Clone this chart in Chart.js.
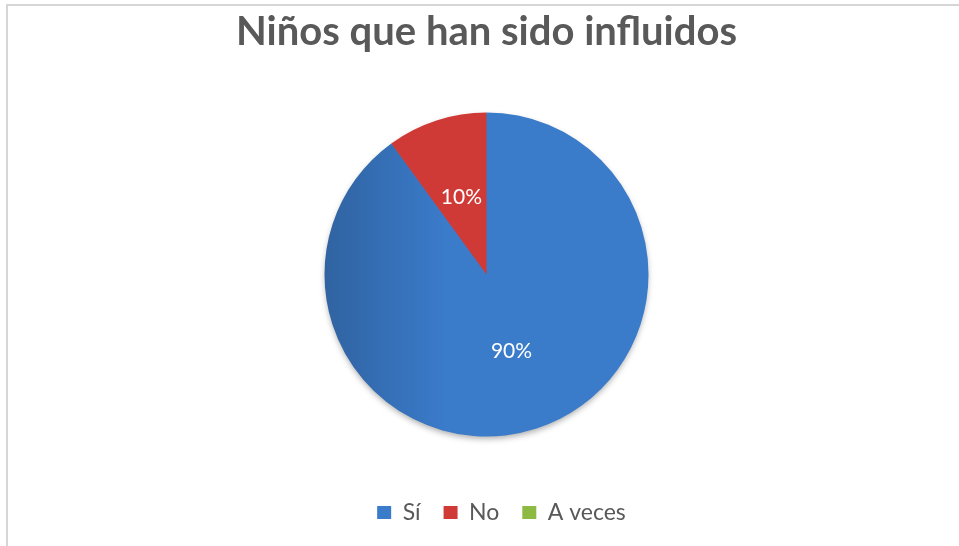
<!DOCTYPE html>
<html>
<head>
<meta charset="utf-8">
<script src="https://cdn.jsdelivr.net/npm/chart.js@4/dist/chart.umd.min.js"></script>
<style>
  html, body { margin: 0; padding: 0; background: #fff; }
  #wrap { position: relative; width: 959px; height: 546px; }
  #frame {
    position: absolute; left: 6px; top: 4px; right: 0; bottom: 0;
    border-top: 2px solid #d6d6d6; border-left: 2px solid #d6d6d6;
    pointer-events: none;
  }
  canvas { position: absolute; left: 0; top: 0; }
</style>
</head>
<body>
<div id="wrap">
  <canvas id="chart" width="959" height="546"></canvas>
  <div id="frame"></div>
</div>
<script>
var categories = ['Sí', 'No', 'A veces'];
var values = [90, 10, 0];
var colors = ['#3A7BCA', '#D03A36', '#8CBA43'];
var title = 'Niños que han sido influidos';

// blue slice gets darker toward the left edge
function sliceColor(ctx) {
    var i = ctx.dataIndex;
    if (i !== 0) return colors[i];
    var area = ctx.chart.chartArea;
    if (!area) return colors[i];
    var cx = (area.left + area.right) / 2;
    var r = ctx.chart.getDatasetMeta(0).controller.outerRadius || 162;
    var g = ctx.chart.ctx.createLinearGradient(cx - r, 0, cx - r * 0.25, 0);
    g.addColorStop(0, '#3063A1');
    g.addColorStop(1, '#3A7BCA');
    return g;
}

var pieShadow = {
    id: 'pieShadow',
    beforeDatasetsDraw: (chart) => {
        var arc = chart.getDatasetMeta(0).data[0];
        if (!arc) return;
        var ctx = chart.ctx;
        ctx.save();
        ctx.shadowColor = 'rgba(0,0,0,0.35)';
        ctx.shadowBlur = 6;
        ctx.shadowOffsetY = 3;
        ctx.fillStyle = '#3A7BCA';
        ctx.beginPath();
        ctx.arc(arc.x, arc.y, arc.outerRadius - 1, 0, Math.PI * 2);
        ctx.fill();
        ctx.restore();
    }
};

var sliceLabels = {
    id: 'sliceLabels',
    afterDatasetsDraw: (chart) => {
        var ctx = chart.ctx;
        ctx.save();
        ctx.fillStyle = '#ffffff';
        ctx.font = '21px Lato';
        ctx.textAlign = 'center';
        ctx.textBaseline = 'middle';
        chart.getDatasetMeta(0).data.forEach((arc, i) => {
            if (!values[i]) return;
            var p = arc.tooltipPosition();
            ctx.fillText(values[i] + '%', p.x, p.y);
        });
        ctx.restore();
    }
};

// legend row sits a little right of the pie
var legendShift = {
    id: 'legendShift',
    afterLayout: (chart) => {
        if (!chart.legend) return;
        chart.legend.left += 15;
        chart.legend.right += 15;
    }
};

var config = {
    type: 'pie',
    data: {
        labels: categories,
        datasets: [{
            data: values,
            backgroundColor: sliceColor,
            borderWidth: 0,
            radius: 162
        }]
    },
    options: {
        responsive: false,
        animation: false,
        layout: { padding: { left: 14, right: 0, top: 0, bottom: 12 } },
        plugins: {
            title: {
                display: true,
                text: title,
                color: '#595959',
                font: { family: 'Lato', size: 40, weight: 'bold' },
                padding: { top: 8, bottom: 15 }
            },
            legend: {
                position: 'bottom',
                labels: {
                    color: '#595959',
                    font: { family: 'Lato', size: 23 },
                    boxWidth: 14,
                    boxHeight: 13,
                    padding: 23,
                    generateLabels: (chart) => categories.map((c, i) => ({
                        text: c,
                        fillStyle: colors[i],
                        strokeStyle: colors[i],
                        lineWidth: 0,
                        fontColor: '#595959',
                        index: i
                    }))
                }
            },
            tooltip: { enabled: false }
        }
    },
    plugins: [pieShadow, sliceLabels, legendShift]
};

var chart = new Chart(document.getElementById('chart').getContext('2d'), config);
</script>
</body>
</html>
